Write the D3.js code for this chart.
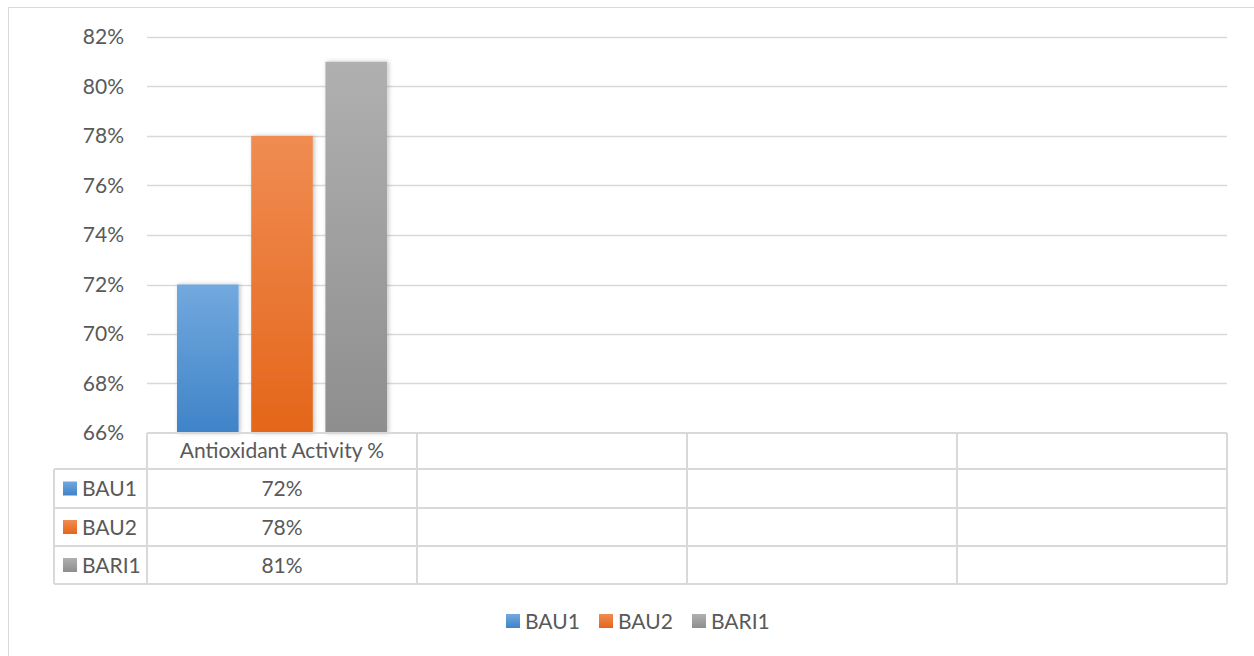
<!DOCTYPE html>
<html><head><meta charset="utf-8">
<script src="https://cdn.jsdelivr.net/npm/d3@7"></script>
<style>
html,body{margin:0;padding:0;background:#fff;}
text{font-family:Lato,"Open Sans",sans-serif;fill:#595959;}
</style></head>
<body>
<svg id="chart" width="1254" height="656"></svg>
<script>
const categories = ["Antioxidant Activity %", "", "", ""];
const seriesNames = ["BAU1", "BAU2", "BARI1"];
const BAU1 = [0.72, null, null, null];
const BAU2 = [0.78, null, null, null];
const BARI1 = [0.81, null, null, null];
const yTicks = [0.66, 0.68, 0.70, 0.72, 0.74, 0.76, 0.78, 0.80, 0.82];
const seriesValues = [BAU1, BAU2, BARI1];
const colorsTop = ["#72A9DE", "#F08C52", "#B0B0B0"];
const colorsBot = ["#3F83C8", "#E4661A", "#8E8E8E"];
const FS = 21;

const svg = d3.select("#chart");
const defs = svg.append("defs");
seriesNames.forEach((s, i) => {
  const g = defs.append("linearGradient").attr("id", "g" + i)
    .attr("x1", 0).attr("y1", 0).attr("x2", 0).attr("y2", 1);
  g.append("stop").attr("offset", "0%").attr("stop-color", colorsTop[i]);
  g.append("stop").attr("offset", "100%").attr("stop-color", colorsBot[i]);
});
const f = defs.append("filter").attr("id", "sh").attr("x", "-20%").attr("y", "-20%").attr("width", "140%").attr("height", "140%");
f.append("feDropShadow").attr("dx", 1.5).attr("dy", 0).attr("stdDeviation", 2).attr("flood-color", "#000").attr("flood-opacity", 0.25);

// chart border
svg.append("rect").attr("x", 8.5).attr("y", 7.5).attr("width", 1260).attr("height", 660)
  .attr("fill", "none").attr("stroke", "#D9D9D9").attr("stroke-width", 1);

const pLeft = 147, pRight = 1227, pTop = 37, pBottom = 433;
const y = d3.scaleLinear().domain([0.66, 0.82]).range([pBottom, pTop]);
const x = d3.scaleBand().domain(d3.range(categories.length)).range([pLeft, pRight]).padding(0);
const xs = d3.scaleBand().domain(seriesNames).range([0, x.bandwidth()]).paddingInner(0.17).paddingOuter(0.404);

// gridlines
svg.append("g").selectAll("line").data(yTicks.filter(t => t > 0.66)).join("line")
  .attr("x1", pLeft).attr("x2", pRight)
  .attr("y1", d => Math.round(y(d)) + 0.5).attr("y2", d => Math.round(y(d)) + 0.5)
  .attr("stroke", "#D9D9D9").attr("stroke-width", 1.3);

// y axis labels
const yAxis = d3.axisLeft(y).tickValues(yTicks).tickFormat(d3.format(".0%")).tickSize(0).tickPadding(23);
const ya = svg.append("g").attr("transform", `translate(${pLeft},0)`).call(yAxis);
ya.select(".domain").remove();
ya.selectAll("text").attr("font-family", "Lato, 'Open Sans', sans-serif").attr("font-size", FS).attr("fill", "#595959");

// bars
seriesValues.forEach((vals, si) => {
  svg.append("g").selectAll("rect").data(vals.map((v, i) => ({v, i})).filter(d => d.v != null)).join("rect")
    .attr("x", d => x(d.i) + xs(seriesNames[si]))
    .attr("width", xs.bandwidth())
    .attr("y", d => y(d.v))
    .attr("height", d => y(0.66) - y(d.v))
    .attr("fill", `url(#g${si})`)
    .attr("filter", "url(#sh)");
});

// data table
const rowY = [433, 469, 508, 546, 584];
const tableLeft = 54;
const tg = svg.append("g").attr("stroke", "#D9D9D9").attr("stroke-width", 2);
tg.append("line").attr("x1", pLeft).attr("x2", pRight).attr("y1", rowY[0]).attr("y2", rowY[0]);
rowY.slice(1).forEach(r => tg.append("line").attr("x1", tableLeft).attr("x2", pRight).attr("y1", r).attr("y2", r));
const vlines = d3.range(categories.length).map(i => x(i)).concat([pRight]);
vlines.forEach(v => tg.append("line").attr("x1", v).attr("x2", v).attr("y1", rowY[0]).attr("y2", rowY[4]));
tg.append("line").attr("x1", tableLeft).attr("x2", tableLeft).attr("y1", rowY[1]).attr("y2", rowY[4]);

// header text
svg.append("g").selectAll("text").data(categories).join("text")
  .attr("x", (d, i) => x(i) + x.bandwidth() / 2)
  .attr("y", 458)
  .attr("text-anchor", "middle").attr("font-size", FS).text(d => d);

// rows
const fmt = d3.format(".0%");
seriesNames.forEach((s, si) => {
  const cy = (rowY[si + 1] + rowY[si + 2]) / 2;
  svg.append("rect").attr("x", 63).attr("y", cy - 7).attr("width", 14).attr("height", 14).attr("fill", `url(#g${si})`);
  svg.append("text").attr("x", 82).attr("y", cy + 7.5).attr("font-size", FS).text(s);
  svg.append("g").selectAll("text").data(seriesValues[si]).join("text")
    .attr("x", (d, i) => x(i) + x.bandwidth() / 2).attr("y", cy + 7.5)
    .attr("text-anchor", "middle").attr("font-size", FS)
    .text(d => d == null ? "" : fmt(d));
});

// legend
const legendX = [506, 599, 692];
const lg = svg.append("g");
seriesNames.forEach((s, si) => {
  lg.append("rect").attr("x", legendX[si]).attr("y", 614).attr("width", 14).attr("height", 14).attr("fill", `url(#g${si})`);
  lg.append("text").attr("x", legendX[si] + 19).attr("y", 628.5).attr("font-size", FS).text(s);
});
</script>
</body></html>
